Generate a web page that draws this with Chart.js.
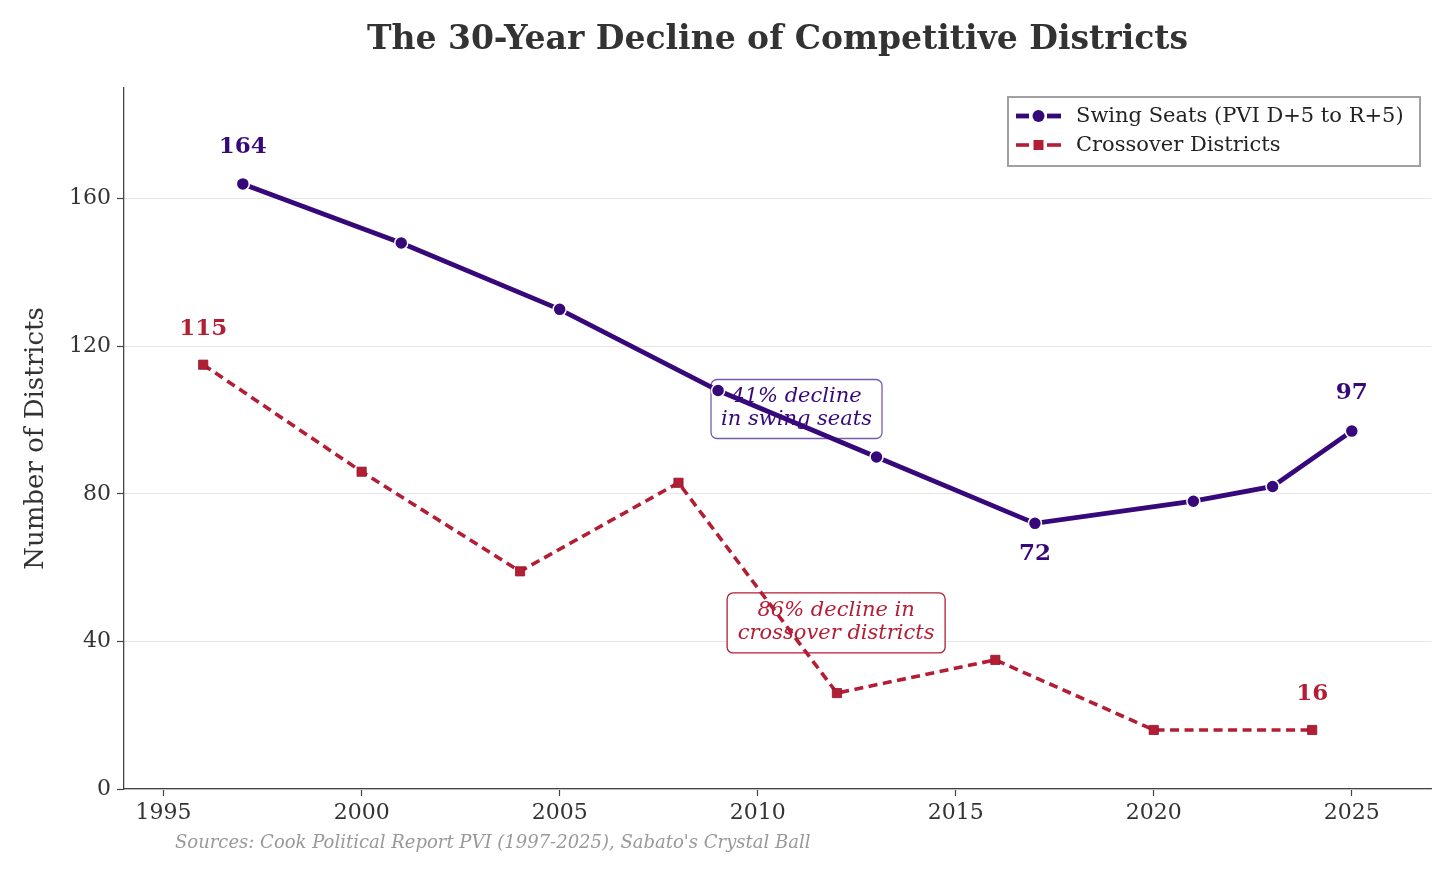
<!DOCTYPE html>
<html>
<head>
<meta charset="utf-8">
<script src="https://cdn.jsdelivr.net/npm/chart.js@4"></script>
<style>
  html, body { margin: 0; padding: 0; background: #fff; }
  #wrap { width: 1456px; height: 878px; }
</style>
</head>
<body>
<div id="wrap"><canvas id="chart"></canvas></div>
<script>
// data
const swingYears = [1997, 2001, 2005, 2009, 2013, 2017, 2021, 2023, 2025];
const swingSeats = [164, 148, 130, 108, 90, 72, 78, 82, 97];
const crossYears = [1996, 2000, 2004, 2008, 2012, 2016, 2020, 2024];
const crossDistricts = [115, 86, 59, 83, 26, 35, 16, 16];
const xTicks = [1995, 2000, 2005, 2010, 2015, 2020, 2025];
const yTicks = [0, 40, 80, 120, 160];

const PURPLE = '#36087a';
const RED = '#b31e35';
const FONT = "'DejaVu Serif', serif";

// value labels: [dataset, index, offset px, text]
const callouts = [
  [0, 0, -37, '164'],
  [0, 5, 31, '72'],
  [0, 8, -38, '97'],
  [1, 0, -36, '115'],
  [1, 7, -36, '16'],
];

const notes = [
  { x: 2010.98, y: 103, lines: ['41% decline', 'in swing seats'], color: PURPLE, border: '#7a5aa8', w: 171, h: 59 },
  { x: 2011.98, y: 45, lines: ['86% decline in', 'crossover districts'], color: RED, border: RED, w: 218, h: 60 },
];

function roundRect(ctx, x, y, w, h, r) {
  ctx.beginPath();
  ctx.moveTo(x + r, y);
  ctx.arcTo(x + w, y, x + w, y + h, r);
  ctx.arcTo(x + w, y + h, x, y + h, r);
  ctx.arcTo(x, y + h, x, y, r);
  ctx.arcTo(x, y, x + w, y, r);
  ctx.closePath();
}

const extras = {
  id: 'extras',
  beforeDatasetsDraw(chart) {
    const { ctx, scales: { x, y } } = chart;
    ctx.save();
    notes.forEach(n => {
      const cx = x.getPixelForValue(n.x), cy = y.getPixelForValue(n.y);
      roundRect(ctx, cx - n.w / 2, cy - n.h / 2, n.w, n.h, 6);
      ctx.fillStyle = 'rgba(255,255,255,0.9)';
      ctx.fill();
      ctx.lineWidth = 1.3;
      ctx.strokeStyle = n.border;
      ctx.stroke();
      ctx.fillStyle = n.color;
      ctx.font = 'italic 21px ' + FONT;
      ctx.textAlign = 'center';
      ctx.textBaseline = 'middle';
      ctx.fillText(n.lines[0], cx, cy - 12);
      ctx.fillText(n.lines[1], cx, cy + 11);
    });
    ctx.restore();
  },
  afterDraw(chart) {
    const { ctx, chartArea } = chart;
    ctx.save();
    // title
    ctx.fillStyle = '#333';
    ctx.font = 'bold 33px ' + FONT;
    ctx.textAlign = 'center';
    ctx.textBaseline = 'middle';
    ctx.fillText('The 30-Year Decline of Competitive Districts', (chartArea.left + chartArea.right) / 2, 40);

    // value labels
    ctx.font = 'bold 23px ' + FONT;
    callouts.forEach(([d, i, off, t]) => {
      const pt = chart.getDatasetMeta(d).data[i];
      ctx.fillStyle = d === 0 ? PURPLE : RED;
      ctx.fillText(t, pt.x, pt.y + off);
    });

    // source note
    ctx.fillStyle = '#999';
    ctx.font = 'italic 18px ' + FONT;
    ctx.textAlign = 'left';
    ctx.fillText("Sources: Cook Political Report PVI (1997-2025), Sabato's Crystal Ball", 175, 843);

    // legend
    const lx = 1008, ly = 97, lw = 412, lh = 69;
    ctx.fillStyle = 'rgba(255,255,255,0.9)';
    ctx.fillRect(lx, ly, lw, lh);
    ctx.strokeStyle = '#a0a0a0';
    ctx.lineWidth = 2;
    ctx.strokeRect(lx, ly, lw, lh);
    const rows = [
      { y: 116, color: PURPLE, width: 4.8, label: chart.data.datasets[0].label, marker: 'circle' },
      { y: 145, color: RED, width: 3.6, label: chart.data.datasets[1].label, marker: 'rect' },
    ];
    rows.forEach(r => {
      ctx.strokeStyle = r.color;
      ctx.lineWidth = r.width;
      ctx.beginPath(); ctx.moveTo(1016, r.y); ctx.lineTo(1029, r.y); ctx.stroke();
      ctx.beginPath(); ctx.moveTo(1047, r.y); ctx.lineTo(1061, r.y); ctx.stroke();
      ctx.fillStyle = r.color;
      if (r.marker === 'circle') {
        ctx.beginPath(); ctx.arc(1038.5, r.y, 6, 0, Math.PI * 2); ctx.fill();
      } else {
        ctx.fillRect(1033.5, r.y - 5, 10, 10);
      }
      ctx.fillStyle = '#222';
      ctx.font = '21px ' + FONT;
      ctx.textAlign = 'left';
      ctx.fillText(r.label, 1076, r.y + 1);
    });
    ctx.restore();
  }
};

new Chart(document.getElementById('chart'), {
  type: 'line',
  data: {
    datasets: [
      {
        label: 'Swing Seats (PVI D+5 to R+5)',
        data: swingYears.map((yr, i) => ({ x: yr, y: swingSeats[i] })),
        borderColor: PURPLE,
        backgroundColor: PURPLE,
        borderWidth: 4.8,
        pointRadius: 6.5,
        pointHoverRadius: 6.5,
        pointBorderColor: '#fff',
        pointBorderWidth: 1.5,
        tension: 0,
        order: 1
      },
      {
        label: 'Crossover Districts',
        data: crossYears.map((yr, i) => ({ x: yr, y: crossDistricts[i] })),
        borderColor: RED,
        backgroundColor: RED,
        borderWidth: 3.6,
        borderDash: [9, 5.5],
        pointStyle: 'rect',
        pointRadius: 6.5,
        pointHoverRadius: 6.5,
        pointBorderColor: '#8e1428',
        pointBorderWidth: 0.8,
        tension: 0,
        order: 2
      }
    ]
  },
  options: {
    responsive: true,
    maintainAspectRatio: false,
    animation: false,
    layout: { padding: { top: 88, right: 25, left: 0, bottom: 0 } },
    plugins: {
      legend: { display: false },
      tooltip: { enabled: false },
      title: { display: false }
    },
    scales: {
      x: {
        type: 'linear',
        min: 1994.0,
        max: 2027,
        afterBuildTicks: s => { s.ticks = xTicks.map(v => ({ value: v })); },
        afterFit: s => { s.height = 89; },
        ticks: {
          color: '#333',
          font: { family: FONT, size: 22 },
          padding: 4,
          maxRotation: 0,
          callback: v => String(v)
        },
        grid: { drawOnChartArea: false, tickLength: 7, tickColor: '#444', tickWidth: 1.2 },
        border: { color: '#444', width: 1.3 }
      },
      y: {
        min: 0,
        max: 190,
        afterBuildTicks: s => { s.ticks = yTicks.map(v => ({ value: v })); },
        afterFit: s => { s.width = 124; },
        title: {
          display: true,
          text: 'Number of Districts',
          color: '#333',
          font: { family: FONT, size: 26 },
          padding: { top: 21, bottom: 0 }
        },
        ticks: {
          color: '#333',
          font: { family: FONT, size: 22 },
          padding: 6
        },
        grid: { color: '#e6e6e6', lineWidth: 1, tickLength: 7, tickColor: '#444', tickWidth: 1.2 },
        border: { color: '#444', width: 1.3 }
      }
    }
  },
  plugins: [extras]
});
</script>
</body>
</html>
